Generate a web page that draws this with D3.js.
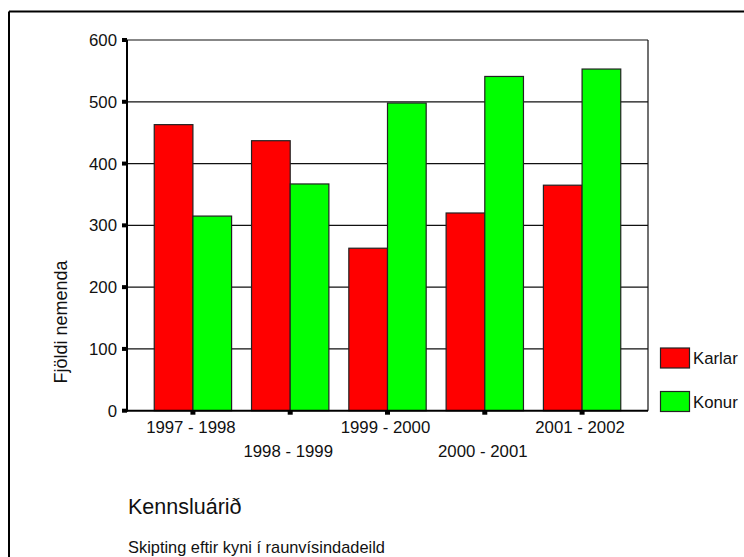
<!DOCTYPE html>
<html>
<head>
<meta charset="utf-8">
<script src="https://cdn.jsdelivr.net/npm/d3@7"></script>
<style>
  html, body { margin: 0; padding: 0; background: #fff; }
  svg { display: block; font-family: "Liberation Sans", Arial, Helvetica, sans-serif; }
</style>
</head>
<body>
<svg id="chart" width="744" height="557"></svg>
<script>
const categories = ["1997 - 1998", "1998 - 1999", "1999 - 2000", "2000 - 2001", "2001 - 2002"];
const seriesNames = ["Karlar", "Konur"];
const karlar = [463, 437, 263, 320, 365];
const konur = [315, 367, 498, 541, 553];
const colors = ["#ff0000", "#00ff00"];
const yTicks = [0, 100, 200, 300, 400, 500, 600];
const yTitle = "Fjöldi nemenda";
const xTitle = "Kennsluárið";
const caption = "Skipting eftir kyni í raunvísindadeild";

const svg = d3.select("#chart");
const plot = { left: 127, right: 648, top: 40, bottom: 410.7 };

// outer frame (only top and left visible)
svg.append("line").attr("x1", 9).attr("x2", 744).attr("y1", 11.5).attr("y2", 11.5)
  .attr("stroke", "#000").attr("stroke-width", 2);
svg.append("line").attr("x1", 9).attr("x2", 9).attr("y1", 11.5).attr("y2", 557)
  .attr("stroke", "#000").attr("stroke-width", 2);

const y = d3.scaleLinear().domain([0, 600]).range([plot.bottom, plot.top]);
const x = d3.scaleBand().domain(categories).range([plot.left, plot.right])
  .paddingInner(0.205).paddingOuter(0.28);
const xs = d3.scaleBand().domain(seriesNames).range([0, x.bandwidth()]);

// gridlines
svg.append("g").selectAll("line").data(yTicks.filter(d => d > 0)).join("line")
  .attr("x1", plot.left).attr("x2", plot.right)
  .attr("y1", d => y(d)).attr("y2", d => y(d))
  .attr("stroke", "#111").attr("stroke-width", 1.2);
// right frame
svg.append("line").attr("x1", plot.right).attr("x2", plot.right)
  .attr("y1", plot.top).attr("y2", plot.bottom).attr("stroke", "#111").attr("stroke-width", 1.2);

// bars
const rows = categories.map((c, i) => ({ cat: c, vals: [karlar[i], konur[i]] }));
const g = svg.append("g");
rows.forEach(r => {
  r.vals.forEach((v, j) => {
    g.append("rect")
      .attr("x", x(r.cat) + xs(seriesNames[j]))
      .attr("y", y(v))
      .attr("width", xs.bandwidth())
      .attr("height", y(0) - y(v))
      .attr("fill", colors[j])
      .attr("stroke", "#222").attr("stroke-width", 1.2);
  });
});

// y axis
svg.append("line").attr("x1", plot.left).attr("x2", plot.left)
  .attr("y1", plot.top).attr("y2", plot.bottom + 1).attr("stroke", "#000").attr("stroke-width", 2);
svg.append("g").selectAll("rect").data(yTicks).join("rect")
  .attr("x", plot.left - 5).attr("y", d => y(d) - 2).attr("width", 5).attr("height", 4).attr("fill", "#000");
svg.append("g").selectAll("text").data(yTicks).join("text")
  .attr("x", plot.left - 10).attr("y", d => y(d) + 6)
  .attr("text-anchor", "end").attr("font-size", 16.8).attr("fill", "#111")
  .text(d => d);

// x axis
svg.append("line").attr("x1", plot.left - 1).attr("x2", plot.right)
  .attr("y1", plot.bottom).attr("y2", plot.bottom).attr("stroke", "#000").attr("stroke-width", 2);
svg.append("g").selectAll("rect").data(categories).join("rect")
  .attr("x", d => x(d) + x.bandwidth() / 2 - 2.5).attr("y", plot.bottom).attr("width", 5).attr("height", 4)
  .attr("fill", "#000");
svg.append("g").selectAll("text").data(categories).join("text")
  .attr("x", d => x(d) + x.bandwidth() / 2 - 2)
  .attr("y", (d, i) => i % 2 === 0 ? 433 : 457)
  .attr("text-anchor", "middle").attr("font-size", 16.8).attr("fill", "#111")
  .text(d => d);

// y title
svg.append("text")
  .attr("transform", "translate(67,322) rotate(-90)")
  .attr("text-anchor", "middle").attr("font-size", 18).attr("fill", "#111")
  .text(yTitle);

// legend
const leg = svg.append("g");
seriesNames.forEach((s, j) => {
  const ly = 348 + j * 43.5;
  leg.append("rect").attr("x", 660.5).attr("y", ly).attr("width", 29).attr("height", 20)
    .attr("fill", colors[j]).attr("stroke", "#222").attr("stroke-width", 1.2);
  leg.append("text").attr("x", 693).attr("y", ly + 16).attr("font-size", 16.8).attr("fill", "#111").text(s);
});

// titles
svg.append("text").attr("x", 128).attr("y", 514).attr("font-size", 21.5).attr("fill", "#111").text(xTitle);
svg.append("text").attr("x", 128).attr("y", 553).attr("font-size", 16.4).attr("fill", "#111").text(caption);
</script>
</body>
</html>
